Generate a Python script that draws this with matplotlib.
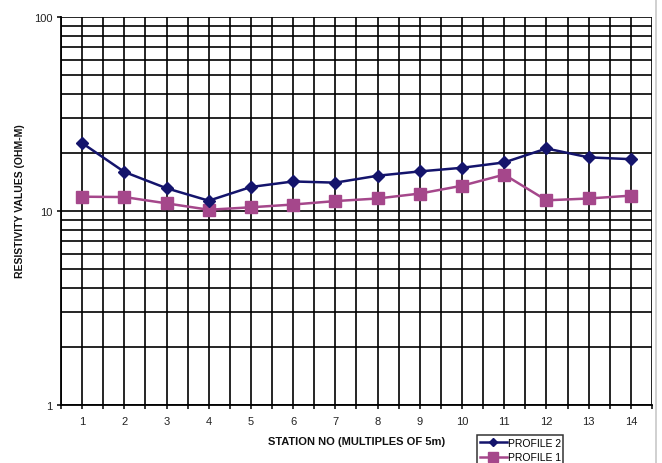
import matplotlib
matplotlib.use("Agg")
import matplotlib.pyplot as plt
from matplotlib.ticker import FixedLocator, NullFormatter, FixedFormatter
from matplotlib.lines import Line2D

plt.rcParams['font.family'] = ['Liberation Sans', 'DejaVu Sans']

stations = list(range(1, 15))
profile_2 = [22.4, 15.9, 13.1, 11.3, 13.3, 14.2, 14.0, 15.2, 16.0, 16.7, 17.8, 21.0, 18.9, 18.5]
profile_1 = [11.85, 11.8, 10.95, 10.15, 10.45, 10.8, 11.25, 11.6, 12.3, 13.5, 15.4, 11.35, 11.6, 12.0]
y_tick_labels = ["1", "10", "100"]

navy = "#14146c"
magenta = "#a5478b"

fig = plt.figure(figsize=(6.62, 4.64), dpi=100)
ax = fig.add_axes([61 / 662, 58 / 464, 591 / 662, 388 / 464])

ax.set_yscale("log")
ax.set_ylim(1, 100)
ax.set_xlim(0.5, 14.5)

# x: labels at station centres, extra gridlines at the boundaries
ax.xaxis.set_major_locator(FixedLocator(stations))
ax.xaxis.set_minor_locator(FixedLocator([s - 0.5 for s in stations] + [14.5]))
ax.xaxis.set_minor_formatter(NullFormatter())
ax.set_xticklabels([str(s) for s in stations])

# y: decades labelled, 2..9 gridlines inside each decade
ax.yaxis.set_major_locator(FixedLocator([1, 10, 100]))
ax.yaxis.set_major_formatter(FixedFormatter(y_tick_labels))
minors = [m * d for d in (1, 10) for m in range(2, 10)]
ax.yaxis.set_minor_locator(FixedLocator(minors))
ax.yaxis.set_minor_formatter(NullFormatter())

ax.grid(True, which="both", color="black", linewidth=1.2)
ax.set_axisbelow(True)

ax.tick_params(axis="x", which="both", length=3, width=1.1, color="black",
               labelsize=8, pad=5)
ax.tick_params(axis="y", which="major", length=3, width=1.1, color="black",
               labelsize=8, pad=3)
ax.tick_params(axis="y", which="minor", length=0)
for lab in ax.get_xticklabels() + ax.get_yticklabels():
    lab.set_color("#222222")

for side in ("left", "bottom"):
    ax.spines[side].set_color("black")
    ax.spines[side].set_linewidth(1.3)
for side in ("top", "right"):
    ax.spines[side].set_visible(False)

ax.plot(stations, profile_2, color=navy, linewidth=1.8, marker="D",
        markersize=6, markerfacecolor=navy, markeredgecolor=navy, zorder=4)
ax.plot(stations, profile_1, color=magenta, linewidth=1.8, marker="s",
        markersize=8, markerfacecolor=magenta, markeredgecolor=magenta, zorder=3)

fig.text(357 / 662, 1 - 442 / 464, "STATION NO (MULTIPLES OF 5m)", ha="center",
         va="center", fontsize=8, fontweight="bold", color="#111111")
fig.text(20 / 662, 1 - 201 / 464, "RESISTIVITY VALUES (OHM-M)", ha="center",
         va="center", rotation=90, fontsize=7.5, fontweight="bold", color="#111111")

handles = [
    Line2D([], [], color=navy, linewidth=1.8, marker="D", markersize=4),
    Line2D([], [], color=magenta, linewidth=1.8, marker="s", markersize=7),
]
leg = fig.legend(handles, ["PROFILE 2", "PROFILE 1"], loc="upper left",
                 bbox_to_anchor=(477 / 662, 1 - 436 / 464), fontsize=7.5,
                 frameon=True, fancybox=False, handlelength=2.6,
                 handletextpad=0.1, borderpad=0.25, labelspacing=0.45,
                 borderaxespad=0)
leg.get_frame().set_edgecolor("black")
leg.get_frame().set_linewidth(1.1)

# thin grey border on the right of the chart area
fig.add_artist(Line2D([656 / 662, 656 / 662], [0, 1], color="#c8c8c8",
                      linewidth=1.2, transform=fig.transFigure))

fig.savefig("out.png", dpi=100)
